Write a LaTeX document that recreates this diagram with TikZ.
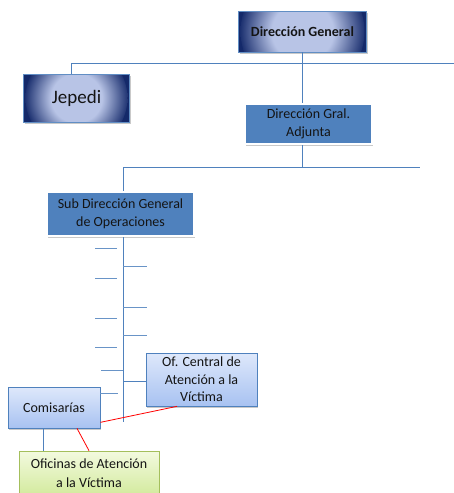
\documentclass[tikz,border=0pt]{standalone}
\usepackage{fontspec}
\setmainfont{Carlito}
\usetikzlibrary{shadows}
\definecolor{navlight}{HTML}{B8C4E6}
\definecolor{navdark}{HTML}{14296A}
\definecolor{obl}{HTML}{4F81BD}
\definecolor{lbtop}{HTML}{DEE8FB}
\definecolor{lbbot}{HTML}{A8C2F1}
\definecolor{grtop}{HTML}{F3FADF}
\definecolor{grbot}{HTML}{D3EA9E}
\definecolor{grbd}{HTML}{A4BF5C}
\definecolor{txt}{HTML}{141414}
\pgfdeclareradialshading{navyglow}{\pgfpoint{0bp}{0bp}}{color(0bp)=(navlight); color(12bp)=(navlight); color(25bp)=(navdark); color(50bp)=(navdark)}
\tikzset{
  lbl/.style={font=\fontsize{14}{17.5}\selectfont, text=txt, align=center, inner sep=0pt},
  myshadow/.style={drop shadow={shadow xshift=1pt, shadow yshift=-1.5pt, opacity=0.35, fill=black!60}},
  glowbox/.style={lbl, fill=navdark, draw=obl!90!white, line width=0.6pt, myshadow,
    path picture={\shade[shading=navyglow] (path picture bounding box.center) circle (#1);}},
  solidbox/.style={lbl, fill=obl, draw=white, line width=2pt, myshadow},
  lightbox/.style={lbl, top color=lbtop, bottom color=lbbot, draw=obl, line width=0.7pt, myshadow},
  greenbox/.style={lbl, top color=grtop, bottom color=grbot, draw=grbd, line width=0.7pt},
  conn/.style={draw=obl, line width=0.8pt},
  stub/.style={draw=obl!85, line width=0.8pt},
  redconn/.style={draw=red, line width=0.8pt}
}
\begin{document}
\begin{tikzpicture}[x=1pt,y=-1pt]
\useasboundingbox (0,0) rectangle (454,493);
\fill[white] (0,0) rectangle (454,493);
\clip (0,0) rectangle (454,493);

% coordinates
\coordinate (b1L) at (71,63);
\coordinate (b1R) at (454,63);
\coordinate (b2L) at (123,167);
\coordinate (b2R) at (420,167);
\coordinate (spineEnd) at (123,422);

% bars
\draw[conn] (b1L) -- (b1R);
\draw[conn] (b2L) -- (b2R);

% nodes
\node[glowbox=62pt, minimum width=128pt, minimum height=41pt, font=\fontsize{14}{17}\selectfont\bfseries] (dg) at (302.5,31.5) {Dirección General};
\node[glowbox=51pt, minimum width=106pt, minimum height=48pt, font=\fontsize{19}{22}\selectfont] (jep) at (76.5,98) {Jepedi};
\node[solidbox, minimum width=127pt, minimum height=40pt] (adj) at (308.5,124) {Dirección Gral.\\Adjunta};
\node[solidbox, minimum width=147pt, minimum height=44pt, font=\fontsize{14}{18}\selectfont] (sub) at (120.5,214) {Sub Dirección General\\de Operaciones};

\draw[conn] (302,0 |- dg.south) -- (302,63);
\draw[conn] (302,63) -- (302,0 |- adj.north);
\draw[conn] (b1L) -- (b1L |- jep.north);
\draw[conn] (302,0 |- adj.south) -- (302,167);
\draw[conn] (b2L) -- (b2L |- sub.north);
\draw[conn] (b2L |- sub.south) -- (spineEnd);

% stubs
\foreach \yy in {248,278,318,347} {\draw[stub] (95,\yy) -- (117,\yy);}
\foreach \yy in {266,307,335} {\draw[stub] (123,\yy) -- (147,\yy);}
\draw[stub] (101,370) -- (123,370);

\node[lightbox, minimum width=111pt, minimum height=53pt] (ofc) at (201.5,379.5) {Of. Central de\\Atención a la\\Víctima};
\node[lightbox, minimum width=92pt, minimum height=41pt] (com) at (54,407.5) {Comisarías};
\node[greenbox, minimum width=140pt, minimum height=44pt, font=\fontsize{14}{19}\selectfont] (ofi) at (89,473) {Oficinas de Atención\\a la Víctima};

\draw[conn] (123,381) -- (123,381 -| ofc.west);
\draw[stub] (com.east |- 0,393) -- (118,393);
\draw[conn] ([xshift=-11pt]com.south) -- ([xshift=-11pt]com.south |- ofi.north);

\draw[redconn] ([yshift=6pt]com.south east) -- ([xshift=-24.5pt]ofc.south);
\draw[redconn] ([xshift=23pt]com.south) -- (ofi.north);
\end{tikzpicture}
\end{document}
